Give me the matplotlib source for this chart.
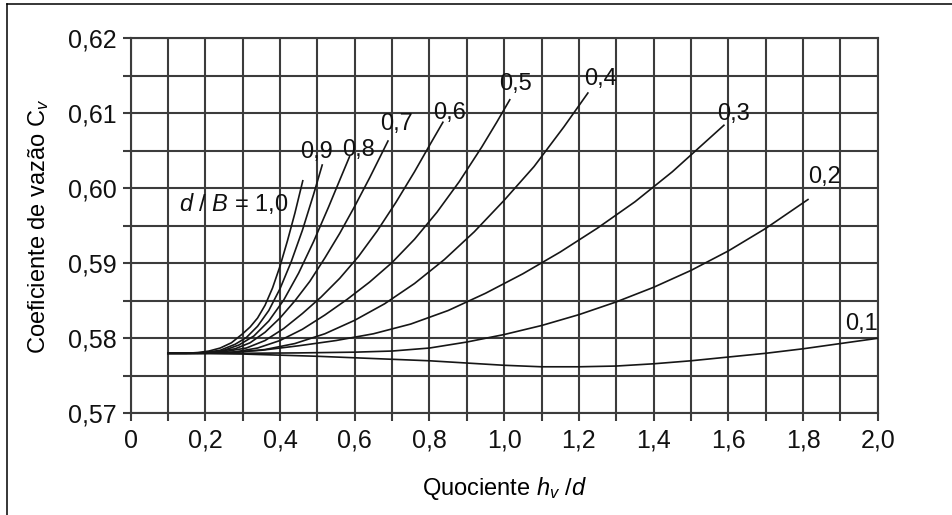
import matplotlib
matplotlib.use("Agg")
import matplotlib.pyplot as plt
import matplotlib.ticker as ticker
from matplotlib.font_manager import findfont, FontProperties
from matplotlib.lines import Line2D

# pick a narrow sans if the box has one
FAMILY = "Liberation Sans"
for cand in ["Liberation Sans Narrow", "DejaVu Sans Condensed"]:
    try:
        findfont(FontProperties(family=cand), fallback_to_default=False)
        FAMILY = cand
        break
    except ValueError:
        pass

plt.rcParams["font.family"] = [FAMILY, "DejaVu Sans"]
plt.rcParams["mathtext.fontset"] = "custom"
plt.rcParams["mathtext.rm"] = FAMILY
plt.rcParams["mathtext.it"] = FAMILY + ":italic"

# curves, one per d/B ratio
x_10 = [0.10, 0.15, 0.18, 0.21, 0.24, 0.27, 0.30, 0.32, 0.34, 0.36, 0.38, 0.40, 0.42, 0.44, 0.461]
y_10 = [0.5780, 0.5780, 0.5781, 0.5783, 0.5787, 0.5794, 0.5806, 0.5815, 0.5827, 0.5844,
        0.5867, 0.5896, 0.5930, 0.5967, 0.6010]

x_09 = [0.10, 0.16, 0.20, 0.24, 0.28, 0.31, 0.34, 0.37, 0.40, 0.43, 0.46, 0.49, 0.513]
y_09 = [0.5780, 0.5780, 0.5781, 0.5784, 0.5792, 0.5801, 0.5816, 0.5837, 0.5866, 0.5902,
        0.5944, 0.5992, 0.6031]

x_08 = [0.10, 0.17, 0.21, 0.25, 0.29, 0.33, 0.37, 0.41, 0.45, 0.49, 0.53, 0.56, 0.586]
y_08 = [0.5780, 0.5780, 0.5781, 0.5784, 0.5791, 0.5803, 0.5823, 0.5851, 0.5887, 0.5929,
        0.5975, 0.6011, 0.6042]

x_07 = [0.10, 0.18, 0.23, 0.28, 0.32, 0.36, 0.40, 0.44, 0.48, 0.52, 0.56, 0.60, 0.64, 0.689]
y_07 = [0.5780, 0.5780, 0.5782, 0.5786, 0.5794, 0.5808, 0.5827, 0.5850, 0.5876, 0.5907,
        0.5940, 0.5976, 0.6014, 0.6063]

x_06 = [0.10, 0.19, 0.25, 0.31, 0.36, 0.41, 0.46, 0.51, 0.56, 0.61, 0.66, 0.71, 0.76, 0.80, 0.836]
y_06 = [0.5780, 0.5780, 0.5782, 0.5787, 0.5797, 0.5813, 0.5833, 0.5855, 0.5880, 0.5909,
        0.5943, 0.5981, 0.6022, 0.6057, 0.6088]

x_05 = [0.10, 0.20, 0.27, 0.34, 0.40, 0.46, 0.52, 0.58, 0.64, 0.70, 0.76, 0.82, 0.88, 0.94, 0.98, 1.015]
y_05 = [0.5780, 0.5780, 0.5781, 0.5787, 0.5797, 0.5812, 0.5831, 0.5852, 0.5875, 0.5901,
        0.5932, 0.5968, 0.6009, 0.6055, 0.6088, 0.6118]

x_04 = [0.10, 0.20, 0.28, 0.36, 0.44, 0.52, 0.60, 0.68, 0.76, 0.84, 0.92, 1.00, 1.08, 1.16, 1.224]
y_04 = [0.5780, 0.5780, 0.5781, 0.5785, 0.5793, 0.5806, 0.5824, 0.5846, 0.5873, 0.5905,
        0.5942, 0.5984, 0.6029, 0.6082, 0.6127]

x_03 = [0.10, 0.15, 0.25, 0.35, 0.45, 0.55, 0.65, 0.75, 0.85, 0.95, 1.05, 1.15, 1.25, 1.35, 1.45, 1.588]
y_03 = [0.5780, 0.5780, 0.5781, 0.5784, 0.5790, 0.5797, 0.5806, 0.5819, 0.5837, 0.5860,
        0.5886, 0.5915, 0.5947, 0.5982, 0.6022, 0.6084]

x_02 = [0.10, 0.15, 0.30, 0.45, 0.60, 0.70, 0.80, 0.90, 1.00, 1.10, 1.20, 1.30, 1.40, 1.50, 1.60, 1.70, 1.813]
y_02 = [0.5780, 0.5780, 0.5780, 0.57805, 0.57815, 0.5783, 0.5787, 0.5795, 0.5805, 0.5817,
        0.58315, 0.58485, 0.5868, 0.58905, 0.59165, 0.59465, 0.5985]

x_01 = [0.10, 0.15, 0.30, 0.50, 0.70, 0.80, 0.90, 1.00, 1.10, 1.20, 1.30, 1.40, 1.50, 1.60, 1.70, 1.80, 1.90, 2.00]
y_01 = [0.5780, 0.5780, 0.5779, 0.5776, 0.5772, 0.5770, 0.5767, 0.5764, 0.5762, 0.5762,
        0.5763, 0.5766, 0.5770, 0.5775, 0.5780, 0.5786, 0.5793, 0.5800]

curves = [(x_10, y_10), (x_09, y_09), (x_08, y_08), (x_07, y_07), (x_06, y_06),
          (x_05, y_05), (x_04, y_04), (x_03, y_03), (x_02, y_02), (x_01, y_01)]

# curve labels and where they sit (x centre, baseline y)
labels = ["$d$ / $B$ = 1,0", "0,9", "0,8", "0,7", "0,6", "0,5", "0,4", "0,3", "0,2", "0,1"]
label_x = [0.276, 0.497, 0.611, 0.711, 0.854, 1.030, 1.257, 1.613, 1.856, 1.957]
label_y = [0.5970, 0.6040, 0.6043, 0.6078, 0.6093, 0.6131, 0.6138, 0.6091, 0.6007, 0.5811]

GRID = "#3c3c3c"
LINE = "#161616"

fig = plt.figure(figsize=(9.52, 5.15), dpi=100)
ax = fig.add_axes([0.1371, 0.1975, 0.785, 0.7282])

for xs, ys in curves:
    ax.plot(xs, ys, color=LINE, lw=1.2, zorder=3, solid_joinstyle="round")

for txt, lx, ly in zip(labels, label_x, label_y):
    ax.text(lx, ly, txt, ha="center", va="baseline", fontsize=17, color="#111111", zorder=4)

ax.set_xlim(0, 2.0)
ax.set_ylim(0.57, 0.62)
ax.xaxis.set_major_locator(ticker.MultipleLocator(0.2))
ax.xaxis.set_minor_locator(ticker.MultipleLocator(0.1))
ax.yaxis.set_major_locator(ticker.MultipleLocator(0.01))
ax.yaxis.set_minor_locator(ticker.MultipleLocator(0.005))

def fmt_x(v, pos):
    if abs(v) < 1e-9:
        return "0"
    return f"{v:.1f}".replace(".", ",")

def fmt_y(v, pos):
    return f"{v:.2f}".replace(".", ",")

ax.xaxis.set_major_formatter(ticker.FuncFormatter(fmt_x))
ax.yaxis.set_major_formatter(ticker.FuncFormatter(fmt_y))

ax.tick_params(which="both", direction="out", length=6, width=1.5, color=GRID,
               labelsize=18, labelcolor="#111111")
ax.tick_params(axis="y", pad=4)
ax.tick_params(axis="x", pad=5)

ax.grid(True, which="both", color=GRID, lw=1.5)
ax.set_axisbelow(True)
for sp in ax.spines.values():
    sp.set_color(GRID)
    sp.set_linewidth(1.5)

ax.set_xlabel("Quociente $h_v$ /$d$", fontsize=17, labelpad=16)
ax.set_ylabel("Coeficiente de vazão C$_v$", fontsize=17, labelpad=12)

# thin frame at the top and left of the picture
fig.add_artist(Line2D([7 / 952, 1.0], [1 - 4 / 515, 1 - 4 / 515], color="black", lw=1.1))
fig.add_artist(Line2D([7 / 952, 7 / 952], [0.0, 1 - 4 / 515], color="black", lw=1.1))

fig.savefig("out.png", dpi=100)
